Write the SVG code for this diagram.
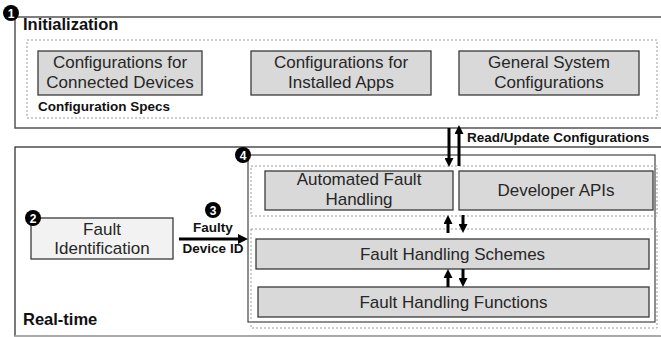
<svg xmlns="http://www.w3.org/2000/svg" width="661" height="337" viewBox="0 0 661 337">
<style>
.box{fill:#d9d9d9;stroke:#3a3a3a;stroke-width:1.3}
.lbox{fill:#f2f2f2;stroke:#3a3a3a;stroke-width:1.3}
.dot{fill:none;stroke:#9a9a9a;stroke-width:1;stroke-dasharray:2,2}
.t{font-family:"Liberation Sans",Arial,sans-serif;font-size:17px;fill:#262626;text-anchor:middle}
.b{font-family:"Liberation Sans",Arial,sans-serif;font-weight:bold;fill:#111}
.num{font-family:"Liberation Sans",Arial,sans-serif;font-weight:bold;font-size:12px;fill:#fff;text-anchor:middle}
.arr{stroke:#000;stroke-width:3;fill:none}
</style>
<defs>
<marker id="ah" viewBox="0 0 10 10" refX="0" refY="5" markerWidth="10" markerHeight="10" markerUnits="userSpaceOnUse" orient="auto">
<path d="M0,0 L10,5 L0,10 z" fill="#000"/>
</marker>
<marker id="ahs" viewBox="0 0 10 10" refX="0" refY="5" markerWidth="9" markerHeight="9" markerUnits="userSpaceOnUse" orient="auto">
<path d="M0,0 L10,5 L0,10 z" fill="#000"/>
</marker>
</defs>
<rect width="661" height="337" fill="#fff"/>

<g id="initialization">
<rect x="15" y="17" width="660" height="111" fill="none" stroke="#555" stroke-width="1.5"/>
<text class="b" x="23" y="30" font-size="16.5">Initialization</text>
<circle cx="11" cy="13" r="8" fill="#000"/>
<text class="num" x="11" y="17.5">1</text>
</g>

<g id="configuration-specs">
<rect class="dot" x="27" y="40" width="630" height="78"/>
<text class="b" x="38" y="111" font-size="13.5">Configuration Specs</text>
</g>

<g id="cfg-connected-devices">
<rect class="box" x="38" y="51" width="164" height="44"/>
<text class="t" x="120" y="68">Configurations for</text>
<text class="t" x="120" y="88">Connected Devices</text>
</g>

<g id="cfg-installed-apps">
<rect class="box" x="251" y="51" width="180" height="44"/>
<text class="t" x="341" y="68">Configurations for</text>
<text class="t" x="341" y="88">Installed Apps</text>
</g>

<g id="cfg-general-system">
<rect class="box" x="459" y="51" width="180" height="44"/>
<text class="t" x="549" y="68">General System</text>
<text class="t" x="549" y="88">Configurations</text>
</g>

<g id="real-time">
<rect x="15" y="147" width="660" height="189" fill="none" stroke="#333" stroke-width="1.3"/>
<line x1="15" y1="336" x2="661" y2="336" stroke="#bbb" stroke-width="1.3"/>
<text class="b" x="23" y="325" font-size="16.5">Real-time</text>
</g>

<g id="fault-identification">
<rect class="lbox" x="31" y="218" width="142" height="41"/>
<text class="t" x="102" y="235">Fault</text>
<text class="t" x="102" y="254">Identification</text>
<circle cx="33" cy="218" r="8" fill="#000"/>
<text class="num" x="33" y="222.5">2</text>
</g>

<g id="fault-handling">
<rect x="248" y="155" width="407" height="167" fill="#fff" stroke="#444" stroke-width="1.2"/>
<circle cx="243" cy="155" r="8" fill="#000"/>
<text class="num" x="243" y="159.5">4</text>
<rect class="dot" x="251" y="166" width="406" height="50"/>
<rect class="dot" x="251" y="229" width="406" height="99"/>
</g>

<g id="automated-fault-handling">
<rect class="box" x="265" y="171" width="188" height="39"/>
<text class="t" x="359" y="185" font-size="16.5">Automated Fault</text>
<text class="t" x="359" y="204.5" font-size="16.5">Handling</text>
</g>

<g id="developer-apis">
<rect class="box" x="459" y="171" width="194" height="39"/>
<text class="t" x="556" y="196">Developer APIs</text>
</g>

<g id="fault-handling-schemes">
<rect class="box" x="256" y="239" width="393" height="30"/>
<text class="t" x="452.5" y="260">Fault Handling Schemes</text>
</g>

<g id="fault-handling-functions">
<rect class="box" x="258" y="287" width="391" height="30"/>
<text class="t" x="453.5" y="308">Fault Handling Functions</text>
</g>

<g id="connectors">
<line class="arr" x1="449" y1="128" x2="449" y2="158" marker-end="url(#ahs)"/>
<line class="arr" x1="459" y1="166" x2="459" y2="134" marker-end="url(#ahs)"/>
<text class="b" x="467" y="142" font-size="13.5">Read/Update Configurations</text>

<line class="arr" x1="179" y1="239" x2="238" y2="239" marker-end="url(#ah)"/>
<circle cx="213" cy="210" r="8" fill="#000"/>
<text class="num" x="213" y="214.5">3</text>
<text class="b" x="213" y="232" font-size="13.5" text-anchor="middle">Faulty</text>
<text class="b" x="213" y="253" font-size="13.5" text-anchor="middle">Device ID</text>

<line class="arr" x1="448" y1="233" x2="448" y2="224" marker-end="url(#ahs)"/>
<line class="arr" x1="463" y1="215" x2="463" y2="224" marker-end="url(#ahs)"/>
<line class="arr" x1="448" y1="287" x2="448" y2="278" marker-end="url(#ahs)"/>
<line class="arr" x1="463" y1="269" x2="463" y2="278" marker-end="url(#ahs)"/>
</g>
</svg>
